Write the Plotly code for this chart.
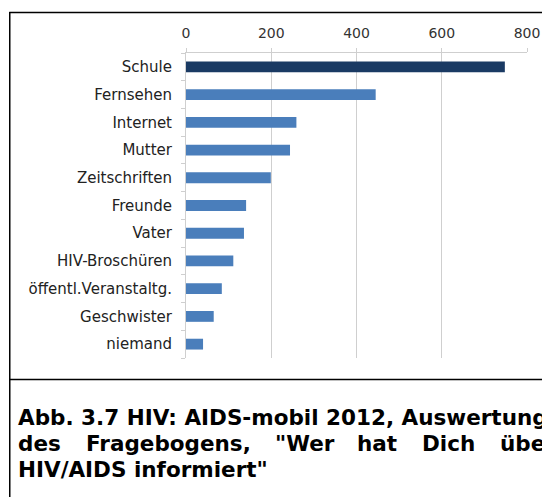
import plotly.graph_objects as go

categories = ["Schule", "Fernsehen", "Internet", "Mutter", "Zeitschriften", "Freunde",
              "Vater", "HIV-Broschüren", "öffentl.Veranstaltg.", "Geschwister", "niemand"]
values = [748, 445, 259, 244, 199, 141, 136, 111, 84, 65, 40]
x_ticks = [0, 200, 400, 600, 800]
caption_line1 = "Abb. 3.7 HIV: AIDS-mobil 2012, Auswertung"
caption_line2_words = ["des", "Fragebogens,", "\"Wer", "hat", "Dich", "über"]
caption_line3 = "HIV/AIDS informiert\""

# page has an 8px body margin; figure coordinates = page coordinates - 8
OFF = 8
W, H = 550, 497
L, R, T, B = 186 - OFF, 550 - (527.5 - OFF), 53 - OFF, 497 - (358 - OFF)
PW, PH = W - L - R, H - T - B


def px(x):
    return ((x - OFF) - L) / PW


def py(y):
    return (H - B - (y - OFF)) / PH


colors = ["#1a3a63"] + ["#4a7ebb"] * (len(categories) - 1)

fig = go.Figure(go.Bar(
    x=values, y=categories, orientation="h",
    marker=dict(color=colors, line=dict(width=0)),
    width=0.39,
))

font_fam = "DejaVu Sans, Verdana, sans-serif"
grid_col = "#cfcfcf"
fig.update_layout(
    width=W, height=H,
    margin=dict(l=L, r=R, t=T, b=B),
    paper_bgcolor="white", plot_bgcolor="white",
    showlegend=False,
    xaxis=dict(
        side="top", range=[0, 800], tickvals=x_ticks,
        showgrid=True, gridcolor=grid_col, gridwidth=1,
        zeroline=False, showline=True, linecolor=grid_col, linewidth=1,
        ticks="outside", ticklen=4, tickcolor=grid_col,
        tickfont=dict(family=font_fam, size=14, color="#333333"),
        ticklabelstandoff=4,
    ),
    yaxis=dict(
        categoryorder="array", categoryarray=categories[::-1],
        showline=True, linecolor=grid_col, linewidth=1,
        ticks="outside", ticklen=4, tickcolor=grid_col, tickson="boundaries",
        showgrid=False, zeroline=False,
        tickfont=dict(family=font_fam, size=15, color="#222222"),
        ticklabelstandoff=10,
    ),
)

line_col = "black"
shapes = [
    dict(type="line", xref="paper", yref="paper", x0=px(9), x1=px(570), y0=py(12.5), y1=py(12.5),
         line=dict(color=line_col, width=1.5)),
    dict(type="line", xref="paper", yref="paper", x0=px(9.5), x1=px(9.5), y0=py(12), y1=py(520),
         line=dict(color=line_col, width=1.5)),
    dict(type="line", xref="paper", yref="paper", x0=px(9), x1=px(570), y0=py(379.5), y1=py(379.5),
         line=dict(color=line_col, width=1.5)),
]
fig.update_layout(shapes=shapes)

cap_font = dict(family="DejaVu Sans, Verdana, sans-serif", size=21.5, color="black")
annotations = [
    dict(text="<b>" + caption_line1 + "</b>", x=px(16), y=py(417), xref="paper", yref="paper",
         xanchor="left", yanchor="middle", showarrow=False, font=cap_font),
    dict(text="<b>" + caption_line3 + "</b>", x=px(16), y=py(469), xref="paper", yref="paper",
         xanchor="left", yanchor="middle", showarrow=False, font=cap_font),
]
word_x = [16, 84, 273, 355, 420, 498]
for wd, wx in zip(caption_line2_words, word_x):
    annotations.append(dict(text="<b>" + wd + "</b>", x=px(wx), y=py(443), xref="paper", yref="paper",
                            xanchor="left", yanchor="middle", showarrow=False, font=cap_font))
fig.update_layout(annotations=annotations)

fig.write_html("out.html")
